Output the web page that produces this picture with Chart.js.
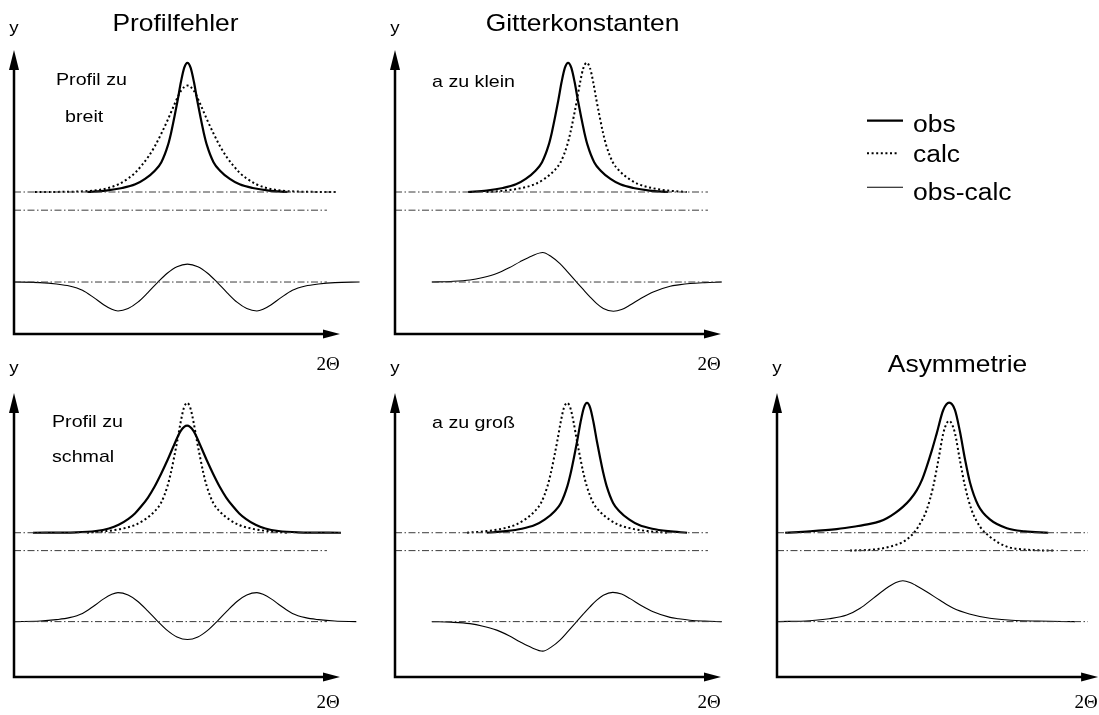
<!DOCTYPE html>
<html lang="de">
<head>
<meta charset="UTF-8">
<title>Profilfehler, Gitterkonstanten, Asymmetrie</title>
<script src="https://cdn.jsdelivr.net/npm/chart.js"></script>
<style>
  body { margin: 0; background: #fff; overflow: hidden; }
  #page { position: relative; width: 1099px; height: 715px; }
  #page canvas { position: absolute; }
</style>
</head>
<body>
<div id="page"></div>
<script>
  // Werte in Diagramm-Einheiten: x 0..100 (2Θ-Achse), y 0..100 (y-Achse)
  // Reihenfolge der Panels: Profil zu breit, a zu klein, Profil zu schmal, a zu groß, Asymmetrie

  const obs1X = [22.5, 28.2, 33.2, 37.2, 40.2, 43.2, 45.2, 47.2, 48.2, 49.2, 50.2, 51.2, 52.2, 53.2, 54.2, 55.2, 56.2, 57.2, 58.2, 59.2, 61.2, 63.2, 66.2, 69.2, 73.2, 78.2, 83.9];
  const obs1Y = [50, 50.5, 51.4, 52.7, 54.6, 57.5, 60.5, 66.4, 70.9, 76.4, 82.3, 88.7, 93.7, 95.5, 93.7, 88.7, 82.3, 76.4, 70.9, 66.4, 60.5, 57.5, 54.6, 52.7, 51.4, 50.5, 50];
  const calc1X = [6.4, 19.2, 25.2, 29.2, 32.2, 35.2, 37.2, 39.2, 41.2, 43.2, 45.2, 47.2, 49.2, 51.2, 53.2, 55.2, 57.2, 59.2, 61.2, 63.2, 65.2, 67.2, 69.2, 71.2, 74.2, 77.2, 81.2, 87.2, 99.4];
  const calc1Y = [50, 50.15, 50.6, 51.5, 52.8, 54.9, 56.8, 59.4, 62.4, 66.1, 70.6, 75.5, 80.8, 85.6, 87.5, 85.6, 80.8, 75.5, 70.6, 66.1, 62.4, 59.4, 56.8, 54.9, 52.8, 51.5, 50.6, 50.15, 50];
  const diff1X = [0, 8, 13, 17, 21, 24.5, 27.5, 30, 31.9, 35, 38, 41, 44, 47, 50, 53.2, 56.4, 59.4, 62.4, 65.4, 68.4, 71.4, 74.5, 76.4, 78.9, 81.9, 85.4, 89.4, 93.4, 98.4, 106];
  const diff1Y = [18.3, 18.1, 17.6, 16.9, 15.4, 12.8, 10.3, 8.7, 8.1, 8.95, 11.2, 14.5, 18.1, 21.4, 23.7, 24.6, 23.7, 21.4, 18.1, 14.5, 11.2, 8.95, 8.1, 8.7, 10.3, 12.8, 15.4, 16.9, 17.6, 18.1, 18.3];

  const obs2X = [22.4, 28.1, 33.1, 37.1, 40.1, 43.1, 45.1, 47.1, 48.1, 49.1, 50.1, 51.1, 52.1, 53.1, 54.1, 55.1, 56.1, 57.1, 58.1, 59.1, 61.1, 63.1, 66.1, 69.1, 73.1, 78.1, 83.8];
  const obs2Y = [50, 50.5, 51.4, 52.7, 54.6, 57.5, 60.5, 66.4, 70.9, 76.4, 82.3, 88.7, 93.7, 95.5, 93.7, 88.7, 82.3, 76.4, 70.9, 66.4, 60.5, 57.5, 54.6, 52.7, 51.4, 50.5, 50];
  const calc2X = [28.1, 33.8, 38.8, 42.8, 45.8, 48.8, 50.8, 52.8, 53.8, 54.8, 55.8, 56.8, 57.8, 58.8, 59.8, 60.8, 61.8, 62.8, 63.8, 64.8, 66.8, 68.8, 71.8, 74.8, 78.8, 83.8, 89.5];
  const calc2Y = [50, 50.5, 51.4, 52.7, 54.6, 57.5, 60.5, 66.4, 70.9, 76.4, 82.3, 88.7, 93.7, 95.5, 93.7, 88.7, 82.3, 76.4, 70.9, 66.4, 60.5, 57.5, 54.6, 52.7, 51.4, 50.5, 50];
  const diff2X = [11.3, 17, 23, 27, 31.2, 35, 38.3, 42, 45.3, 48, 50.6, 53, 55.7, 57.8, 59.8, 61.8, 63.9, 67, 69.5, 72.1, 75.5, 79.2, 84.4, 87, 90.5, 95, 100.2];
  const diff2Y = [18.3, 18.5, 19, 19.9, 21.3, 23.3, 25.4, 27.5, 28.7, 27.2, 24.8, 21.8, 18.3, 15.6, 13.1, 10.8, 9, 8, 8.6, 10.2, 12.6, 14.8, 16.8, 17.3, 17.8, 18.1, 18.3];

  const obs4X = [5.8, 19.1, 25.1, 29.1, 32.1, 35.1, 37.1, 39.1, 41.1, 43.1, 45.1, 47.1, 49.1, 51.1, 53.1, 55.1, 57.1, 59.1, 61.1, 63.1, 65.1, 67.1, 69.1, 71.1, 74.1, 77.1, 81.1, 87.1, 100.3];
  const obs4Y = [50.8, 50.95, 51.4, 52.3, 53.6, 55.7, 57.6, 60.2, 63.2, 67, 71.5, 76.4, 81.7, 86.6, 88.5, 86.6, 81.7, 76.4, 71.5, 67, 63.2, 60.2, 57.6, 55.7, 53.6, 52.3, 51.4, 50.95, 50.8];
  const calc4X = [22.4, 28.1, 33.1, 37.1, 40.1, 43.1, 45.1, 47.1, 48.1, 49.1, 50.1, 51.1, 52.1, 53.1, 54.1, 55.1, 56.1, 57.1, 58.1, 59.1, 61.1, 63.1, 66.1, 69.1, 73.1, 78.1, 83.8];
  const calc4Y = [50.8, 51.35, 52.2, 53.5, 55.4, 58.3, 61.3, 67.3, 71.8, 77.3, 83.2, 89.6, 94.7, 96.5, 94.7, 89.6, 83.2, 77.3, 71.8, 67.3, 61.3, 58.3, 55.4, 53.5, 52.2, 51.35, 50.8];
  const diff4X = [0, 8, 13, 17, 21, 24.5, 27.5, 30, 31.9, 35, 38, 41, 44, 47, 50, 53.2, 56.4, 59.4, 62.4, 65.4, 68.4, 71.4, 74.5, 76.4, 78.9, 81.9, 85.4, 89.4, 93.4, 98.4, 105];
  const diff4Y = [19.5, 19.7, 20.2, 20.9, 22.4, 25, 27.5, 29.1, 29.7, 28.85, 26.6, 23.3, 19.7, 16.4, 14.1, 13.2, 14.1, 16.4, 19.7, 23.3, 26.6, 28.85, 29.7, 29.1, 27.5, 25, 22.4, 20.9, 20.2, 19.7, 19.5];

  const obs5X = [28.2, 33.9, 38.9, 42.9, 45.9, 48.9, 50.9, 52.9, 53.9, 54.9, 55.9, 56.9, 57.9, 58.9, 59.9, 60.9, 61.9, 62.9, 63.9, 64.9, 66.9, 68.9, 71.9, 74.9, 78.9, 83.9, 89.6];
  const obs5Y = [50.8, 51.35, 52.2, 53.5, 55.4, 58.3, 61.3, 67.3, 71.8, 77.3, 83.2, 89.6, 94.7, 96.5, 94.7, 89.6, 83.2, 77.3, 71.8, 67.3, 61.3, 58.3, 55.4, 53.5, 52.2, 51.35, 50.8];
  const calc5X = [22.1, 27.8, 32.8, 36.8, 39.8, 42.8, 44.8, 46.8, 47.8, 48.8, 49.8, 50.8, 51.8, 52.8, 53.8, 54.8, 55.8, 56.8, 57.8, 58.8, 60.8, 62.8, 65.8, 68.8, 72.8, 77.8, 83.5];
  const calc5Y = [50.8, 51.35, 52.2, 53.5, 55.4, 58.3, 61.3, 67.3, 71.8, 77.3, 83.2, 89.6, 94.7, 96.5, 94.7, 89.6, 83.2, 77.3, 71.8, 67.3, 61.3, 58.3, 55.4, 53.5, 52.2, 51.35, 50.8];
  const diff5X = [11.3, 17, 23, 27, 31.2, 35, 38.3, 42, 45.3, 48, 50.6, 53, 55.7, 57.8, 59.8, 61.8, 63.9, 66.8, 69.5, 72.1, 75.5, 79.2, 84.4, 87, 90.5, 95, 100.2];
  const diff5Y = [19.5, 19.3, 18.8, 17.9, 16.5, 14.5, 12.4, 10.3, 9.1, 10.6, 13, 16, 19.5, 22.2, 24.7, 27, 28.8, 29.8, 29.2, 27.6, 25.2, 23, 21, 20.5, 20, 19.7, 19.5];

  const obs6X = [2.5, 10, 18.3, 24, 28.5, 31.5, 33.7, 36.3, 38.7, 40.9, 42.9, 44.5, 45.9, 47.5, 49, 51, 52.8, 54.6, 56.1, 57.7, 59.2, 61.7, 65.3, 70.5, 76, 83.2];
  const obs6Y = [50.8, 51.3, 52.1, 53, 53.9, 54.8, 55.9, 57.8, 60, 62.6, 65.8, 69.5, 74, 79.8, 85.8, 94, 96.6, 94, 86.5, 76.5, 68.5, 60.5, 55.5, 52.4, 51.3, 50.8];
  const calc6X = [22.4, 30.6, 35, 38.7, 41.2, 43.3, 45.9, 47.9, 49.5, 51, 52, 52.8, 53.6, 54.6, 56.1, 57.7, 59.7, 62.3, 65.3, 70.5, 77, 84.8];
  const calc6Y = [44.5, 45, 46, 47.6, 49.8, 52.9, 58.8, 67, 76.4, 85.8, 89.2, 90.2, 89.2, 85.8, 76.4, 67, 58.8, 52.9, 49.4, 45.9, 44.8, 44.5];
  const diff6X = [0.4, 10, 16, 21.4, 25.5, 29.5, 34, 36.5, 38.6, 40.8, 42.5, 45.9, 50, 54.1, 59, 65.3, 72, 80, 91.4];
  const diff6Y = [19.5, 19.8, 20.5, 21.8, 24.2, 27.7, 31.6, 33.3, 33.9, 33.3, 32.3, 30, 27, 24.2, 22.2, 20.7, 20, 19.7, 19.5];

  // Nulllinien (strichpunktiert)
  const obsBase = [50, 50, 50.8, 50.8, 50.8];
  const obsBaseEnd = [99.4, 96, 100.3, 96, 95.4];
  const calcBase = [43.6, 43.6, 44.5, 44.5, 44.5];
  const calcBaseEnd = [96, 96, 96, 96, 95.4];
  const diffBase = [18.3, 18.3, 19.5, 19.5, 19.5];
  const diffBaseStart = [0, 11.3, 0, 11.3, 0];
  const diffBaseEnd = [96, 100.2, 96, 100.2, 95.4];

  const titles = ['Profilfehler', 'Gitterkonstanten', '', '', 'Asymmetrie'];
  const notes = [['Profil zu', 'breit'], ['a zu klein'], ['Profil zu', 'schmal'], ['a zu groß'], []];
  const legendLabels = ['obs', 'calc', 'obs-calc'];

  const obsX = [obs1X, obs2X, obs4X, obs5X, obs6X], obsY = [obs1Y, obs2Y, obs4Y, obs5Y, obs6Y];
  const calcX = [calc1X, calc2X, calc4X, calc5X, calc6X], calcY = [calc1Y, calc2Y, calc4Y, calc5Y, calc6Y];
  const diffX = [diff1X, diff2X, diff4X, diff5X, diff6X], diffY = [diff1Y, diff2Y, diff4Y, diff5Y, diff6Y];

  const SANS = '"Liberation Sans", Arial, Helvetica, sans-serif';
  const SERIF = '"Liberation Serif", "Times New Roman", serif';
  const OBS = { borderWidth: 2.2, borderDash: [] };
  const CALC = { borderWidth: 2, borderDash: [2, 2.6] };
  const DIFF = { borderWidth: 1.1, borderDash: [] };
  const BASE = { borderWidth: 1, borderDash: [7, 2.5, 1.5, 2.5], borderColor: '#3a3a3a' };

  // Lage der Panels auf der Seite; Textpositionen relativ zur Pfeilspitze der y-Achse
  const layout = [
    { left: 0, top: 0, padR: 40, xTip: 100, title: [161.5, -19], yLab: -16.7, thDy: 36, notes: [[42, 35.3], [51, 71.7]] },
    { left: 381, top: 0, padR: 340, xTip: 100, title: [187.5, -19], yLab: -16.7, thDy: 36, notes: [[37, 37]], legend: true },
    { left: 0, top: 343, padR: 40, xTip: 100, yLab: -19.7, thDy: 31, notes: [[38, 33.7], [38, 68.7]] },
    { left: 381, top: 343, padR: 40, xTip: 100, yLab: -19.7, thDy: 31, notes: [[37, 34.7]] },
    { left: 763, top: 343, padR: 40, xTip: 98.5, title: [180.5, -21.3], yLab: -19.7, thDy: 31, notes: [] }
  ];

  function pts(xs, ys) {
    return xs.map((x, i) => ({ x: x, y: ys[i] }));
  }

  function text(ctx, s, x, y, font, sx, align) {
    ctx.save();
    ctx.translate(x, y);
    ctx.scale(sx, 1);
    ctx.font = font;
    ctx.textAlign = align || 'left';
    ctx.textBaseline = 'alphabetic';
    ctx.fillText(s, 0, 0);
    ctx.restore();
  }

  const panelDecor = {
    id: 'panelDecor',
    afterDraw(chart, args, o) {
      const ctx = chart.ctx;
      const xs = chart.scales.x, ys = chart.scales.y;
      const ox = xs.getPixelForValue(0), oy = ys.getPixelForValue(0);
      const xt = xs.getPixelForValue(o.xTip), yt = ys.getPixelForValue(100);
      ctx.save();
      ctx.fillStyle = '#000';
      ctx.strokeStyle = '#000';

      // Achsen mit Pfeilen
      ctx.lineWidth = 2.5;
      ctx.beginPath();
      ctx.moveTo(ox, oy + 1.2);
      ctx.lineTo(ox, yt + 14);
      ctx.moveTo(ox - 1.2, oy);
      ctx.lineTo(xt - 10, oy);
      ctx.stroke();
      ctx.beginPath();
      ctx.moveTo(ox, yt);
      ctx.lineTo(ox - 5, yt + 20);
      ctx.lineTo(ox + 5, yt + 20);
      ctx.closePath();
      ctx.moveTo(xt, oy);
      ctx.lineTo(xt - 17, oy - 4.5);
      ctx.lineTo(xt - 17, oy + 4.5);
      ctx.closePath();
      ctx.fill();

      text(ctx, 'y', ox, yt + o.yLab, '17px ' + SANS, 1.1, 'center');
      text(ctx, '2Θ', xt - 12, oy + o.thDy, '19px ' + SERIF, 1, 'center');
      if (o.title) text(ctx, o.title, ox + o.titleAt[0], yt + o.titleAt[1], '24px ' + SANS, 1.1, 'center');
      o.notes.forEach((s, i) => {
        text(ctx, s, ox + o.noteAt[i][0], yt + o.noteAt[i][1], '17px ' + SANS, 1.155);
      });

      // Legende (nur im Panel "Gitterkonstanten")
      if (o.legend) {
        const styles = [OBS, CALC, DIFF];
        const rows = [70.7, 103.3, 137.3];
        const ends = [508, 503, 508];
        const base = [81.7, 111.7, 150];
        legendLabels.forEach((s, i) => {
          ctx.save();
          ctx.lineWidth = styles[i].borderWidth;
          ctx.setLineDash(styles[i].borderDash);
          ctx.beginPath();
          ctx.moveTo(ox + 472, yt + rows[i]);
          ctx.lineTo(ox + ends[i], yt + rows[i]);
          ctx.stroke();
          ctx.restore();
          text(ctx, s, ox + 518, yt + base[i], '23px ' + SANS, 1.15);
        });
      }
      ctx.restore();
    }
  };

  function series(data, st, smooth) {
    return {
      data: data,
      borderColor: st.borderColor || '#000',
      borderWidth: st.borderWidth,
      borderDash: st.borderDash,
      borderCapStyle: 'butt',
      fill: false,
      pointRadius: 0,
      clip: false,
      cubicInterpolationMode: smooth ? 'monotone' : 'default',
      tension: 0
    };
  }

  const page = document.getElementById('page');
  layout.forEach((L, i) => {
    const canvas = document.createElement('canvas');
    canvas.width = 14 + 326 + L.padR;
    canvas.height = 50 + 284 + 40;
    canvas.style.left = L.left + 'px';
    canvas.style.top = L.top + 'px';
    page.appendChild(canvas);

    new Chart(canvas.getContext('2d'), {
      type: 'line',
      data: {
        datasets: [
          series(pts([0, obsBaseEnd[i]], [obsBase[i], obsBase[i]]), BASE, false),
          series(pts([0, calcBaseEnd[i]], [calcBase[i], calcBase[i]]), BASE, false),
          series(pts([diffBaseStart[i], diffBaseEnd[i]], [diffBase[i], diffBase[i]]), BASE, false),
          series(pts(diffX[i], diffY[i]), DIFF, true),
          series(pts(calcX[i], calcY[i]), CALC, true),
          series(pts(obsX[i], obsY[i]), OBS, true)
        ]
      },
      options: {
        responsive: false,
        animation: false,
        events: [],
        layout: { padding: { left: 14, top: 50, right: L.padR, bottom: 40 } },
        scales: {
          x: { type: 'linear', min: 0, max: 100, display: false },
          y: { type: 'linear', min: 0, max: 100, display: false }
        },
        plugins: {
          legend: { display: false },
          tooltip: { enabled: false },
          panelDecor: {
            xTip: L.xTip,
            title: titles[i],
            titleAt: L.title,
            yLab: L.yLab,
            thDy: L.thDy,
            notes: notes[i],
            noteAt: L.notes,
            legend: !!L.legend
          }
        }
      },
      plugins: [panelDecor]
    });
  });
</script>
</body>
</html>
